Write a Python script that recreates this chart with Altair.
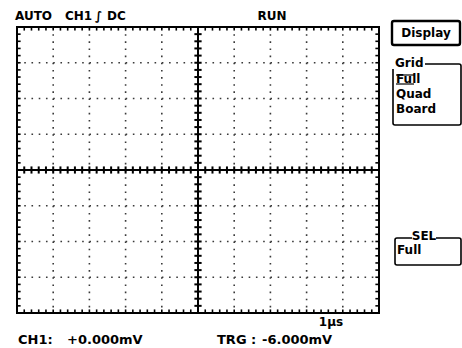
import altair as alt
import pandas as pd

# Screen layout: 10 horizontal x 8 vertical divisions, 5 minor steps per division
H_DIVS = 10
V_DIVS = 8
MINOR = 5

# Status / readout texts
top_left = ["AUTO", "CH1", "∫", "DC"]
run_state = "RUN"
menu_title = "Display"
grid_title = "Grid"
grid_items = ["Full", "Quad", "Board"]
sel_title = "SEL"
sel_value = "Full"
timebase = "1μs"
ch1_label, ch1_value = "CH1:", "+0.000mV"
trg_label, trg_value = "TRG :", "-6.000mV"

W, H = 362, 286          # graticule size in px
PAD_L, PAD_T = 17, 27    # graticule origin inside the 462x348 page
FONT = "DejaVu Sans"
TOP, BOT = V_DIVS / 2, -V_DIVS / 2
MID = H_DIVS / 2

x_major = [i for i in range(1, H_DIVS) if i != H_DIVS // 2]
y_major = [j - V_DIVS // 2 for j in range(1, V_DIVS) if j != V_DIVS // 2]
x_minor = [i / MINOR for i in range(H_DIVS * MINOR + 1)]
y_minor = [j / MINOR - V_DIVS / 2 for j in range(V_DIVS * MINOR + 1)]

xs = alt.Scale(domain=[0, H_DIVS], nice=False, zero=False)
ys = alt.Scale(domain=[BOT, TOP], nice=False, zero=False)


def X(f):
    return alt.X(f, type="quantitative", scale=xs, axis=None)


def Y(f):
    return alt.Y(f, type="quantitative", scale=ys, axis=None)


def vrules(xvals, y1, y2, **mk):
    df = pd.DataFrame({"x": xvals, "y1": y1, "y2": y2})
    return alt.Chart(df).mark_rule(**mk).encode(x=X("x"), y=Y("y1"), y2="y2")


def hrules(yvals, x1, x2, **mk):
    df = pd.DataFrame({"y": yvals, "x1": x1, "x2": x2})
    return alt.Chart(df).mark_rule(**mk).encode(y=Y("y"), x=X("x1"), x2="x2")


dot = dict(color="#3a3a3a", strokeWidth=1.6)
solid = dict(color="black", strokeWidth=2)
edge = dict(color="black", strokeWidth=1.6)

layers = [
    # dotted graticule
    vrules(x_major, TOP, BOT, strokeDash=[1.6, H / (V_DIVS * MINOR) - 1.6], **dot),
    hrules(y_major, 0, H_DIVS, strokeDash=[1.6, W / (H_DIVS * MINOR) - 1.6], **dot),
    # centre cross with beaded minor ticks
    vrules([MID], TOP, BOT, **solid),
    hrules([0], 0, H_DIVS, **solid),
    vrules(x_minor, -0.1, 0.1, **solid),
    hrules(y_minor, MID - 0.1, MID + 0.1, **solid),
    # inward ticks along the frame
    vrules(x_minor, TOP, TOP - 0.1, **edge),
    vrules(x_minor, BOT, BOT + 0.1, **edge),
    hrules(y_minor, 0, 0.1, **edge),
    hrules(y_minor, H_DIVS, H_DIVS - 0.1, **edge),
]


def one():
    return alt.Data(values=[{"k": 0}])


def label(text, x, y, size=12, align="left"):
    # x, y are page coordinates; shift into graticule space
    return alt.Chart(one()).mark_text(
        text=text, font=FONT, fontWeight="bold", fontSize=size,
        align=align, baseline="middle", color="black"
    ).encode(x=alt.value(x - PAD_L), y=alt.value(y - PAD_T))


def box(x1, y1, x2, y2, sw=1.6, r=2):
    return alt.Chart(one()).mark_rect(
        fill="white", stroke="black", strokeWidth=sw, cornerRadius=r
    ).encode(x=alt.value(x1 - PAD_L), x2=alt.value(x2 - PAD_L),
             y=alt.value(y1 - PAD_T), y2=alt.value(y2 - PAD_T))


def blank(x1, y1, x2, y2):
    return alt.Chart(one()).mark_rect(fill="white", strokeWidth=0).encode(
        x=alt.value(x1 - PAD_L), x2=alt.value(x2 - PAD_L),
        y=alt.value(y1 - PAD_T), y2=alt.value(y2 - PAD_T))


def hline(x1, x2, y, sw=1.2):
    return alt.Chart(one()).mark_rule(color="black", strokeWidth=sw).encode(
        x=alt.value(x1 - PAD_L), x2=alt.value(x2 - PAD_L), y=alt.value(y - PAD_T))


texts = [
    label(top_left[0], 15, 16), label(top_left[1], 65, 16),
    label(top_left[2], 95, 16), label(top_left[3], 107, 16),
    label(run_state, 272, 16, align="center"),
    # Display soft-key
    box(392, 21, 460, 45, sw=2.4),
    label(menu_title, 426, 33, align="center"),
    # Grid menu
    box(393, 64, 461, 125),
    blank(391, 58, 425, 69),
    label(grid_title, 395, 63),
    label(grid_items[0], 396, 79), hline(396, 414, 75), hline(396, 414, 84),
    label(grid_items[1], 396, 94),
    label(grid_items[2], 396, 109),
    # SEL menu
    box(395, 238, 461, 265),
    blank(412, 232, 436, 243),
    label(sel_title, 424, 236, align="center"),
    label(sel_value, 397, 250),
    # time base and readouts
    label(timebase, 331, 322, align="center"),
    label(ch1_label, 18, 340, size=13), label(ch1_value, 67, 340, size=13),
    label(trg_label, 217, 340, size=13), label(trg_value, 262, 340, size=13),
]

chart = alt.layer(*layers, *texts).properties(
    width=W, height=H,
    autosize=alt.AutoSizeParams(type="none"),
    padding={"left": PAD_L, "top": PAD_T, "right": 462 - PAD_L - W, "bottom": 348 - PAD_T - H},
    background="white",
).configure_view(stroke="black", strokeWidth=2)

chart.save("out.html", embed_options={"renderer": "svg", "actions": False})
